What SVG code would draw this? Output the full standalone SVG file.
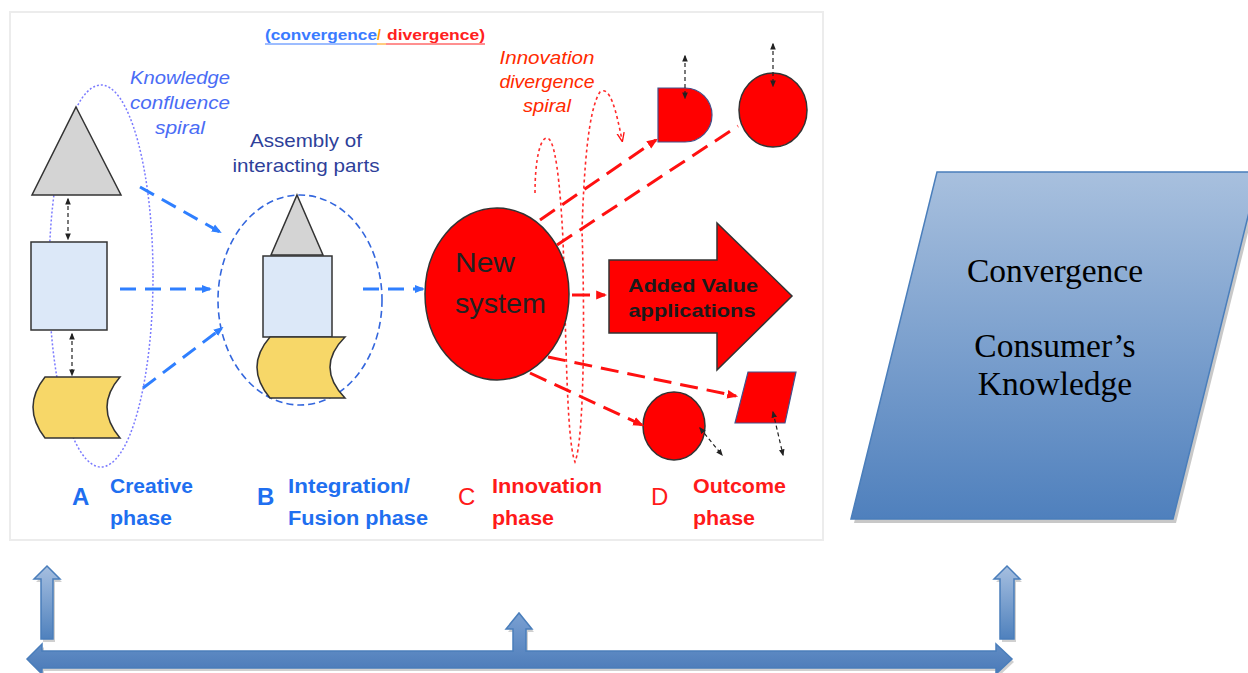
<svg xmlns="http://www.w3.org/2000/svg" width="1248" height="673" viewBox="0 0 1248 673">
<defs>
<style>
.sans{font-family:"Liberation Sans",Arial,sans-serif;}
.serif{font-family:"Liberation Serif","Times New Roman",serif;}
.dk{stroke:#333;stroke-width:1.5;}
.bdash{fill:none;stroke:#2f7fff;stroke-width:3;stroke-dasharray:16 9;}
.rdash{fill:none;stroke:#ff1010;stroke-width:3;stroke-dasharray:18 9;}
.kdash{fill:none;stroke:#222;stroke-width:1.2;stroke-dasharray:4 3;}
.blue{fill:#1f6ff0;}
.red{fill:#ff1a1a;}
.barrow{fill:url(#gv);stroke:#4a7ebb;stroke-width:1.5;}
</style>
<linearGradient id="gp" x1="0" y1="0" x2="0" y2="1">
<stop offset="0" stop-color="#a8c0de"/>
<stop offset="1" stop-color="#4f80bd"/>
</linearGradient>
<linearGradient id="gv" x1="0" y1="0" x2="0" y2="1">
<stop offset="0" stop-color="#a6bfe0"/>
<stop offset="1" stop-color="#4f81bd"/>
</linearGradient>
<linearGradient id="gh" x1="0" y1="0" x2="0" y2="1">
<stop offset="0" stop-color="#7aa0d2"/>
<stop offset="1" stop-color="#4a7ab8"/>
</linearGradient>
<marker id="ab" viewBox="0 0 10 10" markerWidth="10" markerHeight="10" refX="8" refY="5" orient="auto" markerUnits="userSpaceOnUse"><path d="M0,1 L10,5 L0,9 Z" fill="#2f7fff"/></marker>
<marker id="ar" viewBox="0 0 10 10" markerWidth="11" markerHeight="11" refX="8" refY="5" orient="auto" markerUnits="userSpaceOnUse"><path d="M0,1 L10,5 L0,9 Z" fill="#ff1010"/></marker>
<marker id="ark" viewBox="0 0 10 10" markerWidth="9" markerHeight="9" refX="8" refY="5" orient="auto" markerUnits="userSpaceOnUse"><path d="M0,1 L10,5 L0,9" fill="none" stroke="#ff1010" stroke-width="1.5"/></marker>
<marker id="ak" viewBox="0 0 10 10" markerWidth="7" markerHeight="7" refX="8" refY="5" orient="auto-start-reverse" markerUnits="userSpaceOnUse"><path d="M0,1 L10,5 L0,9 Z" fill="#222"/></marker>
</defs>

<rect width="1248" height="673" fill="#ffffff"/>

<!-- embedded picture frame -->
<g id="frame">
<rect x="10" y="12" width="813" height="528" fill="#ffffff" stroke="#ececec" stroke-width="2"/>
</g>

<!-- title -->
<g id="title" class="sans" font-size="14" font-weight="bold">
<text x="265" y="40" fill="#3a7bff" textLength="112" lengthAdjust="spacingAndGlyphs">(convergence</text>
<text x="377" y="40" fill="#ff9900">/</text>
<text x="387" y="40" fill="#ff2020" textLength="98" lengthAdjust="spacingAndGlyphs">divergence)</text>
<line x1="265" y1="44" x2="377" y2="44" stroke="#3a7bff" stroke-width="1"/>
<line x1="377" y1="44" x2="386" y2="44" stroke="#ff9900" stroke-width="1"/>
<line x1="386" y1="44" x2="485" y2="44" stroke="#ff2020" stroke-width="1"/>
</g>

<!-- spirals -->
<g id="spirals">
<ellipse cx="101" cy="276" rx="52" ry="191" fill="none" stroke="#7b7bff" stroke-width="1.5" stroke-dasharray="2 2"/>
<path d="M535,193 C535,160 540,138 547,138 C555,138 560,180 563,240 C566,320 566,440 575,462 C584,440 585,320 582,230 C584,170 588,110 600,92 C610,85 616,110 622,140" fill="none" stroke="#ff2a2a" stroke-width="1.6" stroke-dasharray="3 3" marker-end="url(#ark)"/>
</g>

<!-- spiral labels -->
<g id="spiral-labels" class="sans" font-style="italic" font-size="18">
<text x="180" y="84" fill="#4a6cf5" text-anchor="middle" textLength="100" lengthAdjust="spacingAndGlyphs">Knowledge</text>
<text x="180" y="109" fill="#4a6cf5" text-anchor="middle" textLength="100" lengthAdjust="spacingAndGlyphs">confluence</text>
<text x="180" y="134" fill="#4a6cf5" text-anchor="middle" textLength="50" lengthAdjust="spacingAndGlyphs">spiral</text>
<text x="547" y="64" fill="#ff2a00" text-anchor="middle" textLength="95" lengthAdjust="spacingAndGlyphs">Innovation</text>
<text x="547" y="88" fill="#ff2a00" text-anchor="middle" textLength="95" lengthAdjust="spacingAndGlyphs">divergence</text>
<text x="547" y="112" fill="#ff2a00" text-anchor="middle" textLength="48" lengthAdjust="spacingAndGlyphs">spiral</text>
</g>

<!-- Column A -->
<g id="a-triangle"><polygon points="76,107 121,195 32,195" fill="#d4d4d4" class="dk"/></g>
<g id="a-rect"><rect x="31" y="242" width="76" height="88" fill="#dce8f8" class="dk"/></g>
<g id="a-drum"><path d="M45,377 H120 Q94,407 120,438 H45 Q21,407 45,377 Z" fill="#f7d768" class="dk"/></g>

<!-- Column B -->
<g id="b-assembly">
<ellipse cx="300" cy="300" rx="82" ry="105" fill="none" stroke="#3366dd" stroke-width="1.6" stroke-dasharray="7 4"/>
<polygon points="297,195 323,255 271,255" fill="#d4d4d4" class="dk"/>
<rect x="263" y="256" width="69" height="81" fill="#dce8f8" class="dk"/>
<path d="M270,337 H345 Q315,367 345,398 H270 Q244,367 270,337 Z" fill="#f7d768" class="dk"/>
</g>
<g id="b-label" class="sans" font-size="19" fill="#2e3f9a">
<text x="306" y="147" text-anchor="middle" textLength="112" lengthAdjust="spacingAndGlyphs">Assembly  of</text>
<text x="306" y="172" text-anchor="middle" textLength="147" lengthAdjust="spacingAndGlyphs">interacting parts</text>
</g>

<!-- Column C -->
<g id="new-system">
<ellipse cx="497" cy="294" rx="72" ry="86" fill="#ff0000" class="dk"/>
<text x="455" y="272" class="sans" font-size="28" fill="#222" textLength="60" lengthAdjust="spacingAndGlyphs">New</text>
<text x="455" y="313" class="sans" font-size="28" fill="#222" textLength="91" lengthAdjust="spacingAndGlyphs">system</text>
</g>
<g id="added-value">
<polygon points="609,260 717,260 717,223 792,296 717,370 717,333 609,333" fill="#ff0000" class="dk"/>
<text x="693" y="292" class="sans" font-size="19" font-weight="bold" fill="#1a1a1a" text-anchor="middle" textLength="130" lengthAdjust="spacingAndGlyphs">Added Value</text>
<text x="692" y="317" class="sans" font-size="19" font-weight="bold" fill="#1a1a1a" text-anchor="middle" textLength="127" lengthAdjust="spacingAndGlyphs">applications</text>
</g>

<!-- Column D outcomes -->
<g id="d-halfround"><path d="M658,88 H685 A27,27 0 0 1 685,142 H658 Z" fill="#ff0000" stroke="#44508a" stroke-width="1.2"/></g>
<g id="d-circle-top"><ellipse cx="773" cy="110" rx="34" ry="37" fill="#ff0000" class="dk"/></g>
<g id="d-circle-bottom"><ellipse cx="674" cy="426" rx="31" ry="34" fill="#ff0000" class="dk"/></g>
<g id="d-parallelogram"><polygon points="748,372 796,372 785,423 735,423" fill="#ff0000" stroke="#44508a" stroke-width="1.2"/></g>

<!-- connectors -->
<g id="connectors">
<line x1="68" y1="199" x2="68" y2="239" class="kdash" marker-start="url(#ak)" marker-end="url(#ak)"/>
<line x1="72" y1="334" x2="72" y2="375" class="kdash" marker-start="url(#ak)" marker-end="url(#ak)"/>
<line x1="140" y1="187" x2="220" y2="232" class="bdash" marker-end="url(#ab)"/>
<line x1="120" y1="289" x2="210" y2="289" class="bdash" marker-end="url(#ab)"/>
<line x1="143" y1="388" x2="222" y2="328" class="bdash" marker-end="url(#ab)"/>
<line x1="363" y1="289" x2="423" y2="289" class="bdash" marker-end="url(#ab)"/>
<line x1="572" y1="295" x2="605" y2="295" class="rdash" stroke-dasharray="10 5" marker-end="url(#ar)"/>
<line x1="540" y1="220" x2="656" y2="140" class="rdash" marker-end="url(#ar)"/>
<line x1="557" y1="245" x2="738" y2="126" class="rdash"/>
<line x1="548" y1="357" x2="736" y2="396" class="rdash" marker-end="url(#ar)"/>
<line x1="530" y1="373" x2="642" y2="425" class="rdash" marker-end="url(#ar)"/>
<line x1="685" y1="56" x2="685" y2="98" class="kdash" marker-start="url(#ak)" marker-end="url(#ak)"/>
<line x1="773" y1="44" x2="773" y2="86" class="kdash" marker-start="url(#ak)" marker-end="url(#ak)"/>
<line x1="700" y1="428" x2="722" y2="455" class="kdash" marker-start="url(#ak)" marker-end="url(#ak)"/>
<line x1="773" y1="412" x2="783" y2="455" class="kdash" marker-start="url(#ak)" marker-end="url(#ak)"/>
</g>

<!-- phase labels -->
<g id="phase-a" class="sans" font-weight="bold">
<text x="72" y="505" font-size="24" class="blue">A</text>
<text x="110" y="493" font-size="20" class="blue" textLength="83" lengthAdjust="spacingAndGlyphs">Creative</text>
<text x="110" y="525" font-size="20" class="blue" textLength="62" lengthAdjust="spacingAndGlyphs">phase</text>
</g>
<g id="phase-b" class="sans" font-weight="bold">
<text x="257" y="505" font-size="24" class="blue">B</text>
<text x="288" y="493" font-size="20" class="blue" textLength="122" lengthAdjust="spacingAndGlyphs">Integration/</text>
<text x="288" y="525" font-size="20" class="blue" textLength="140" lengthAdjust="spacingAndGlyphs">Fusion phase</text>
</g>
<g id="phase-c" class="sans" font-weight="bold">
<text x="458" y="505" font-size="24" font-weight="normal" class="red">C</text>
<text x="492" y="493" font-size="20" class="red" textLength="110" lengthAdjust="spacingAndGlyphs">Innovation</text>
<text x="492" y="525" font-size="20" class="red" textLength="62" lengthAdjust="spacingAndGlyphs">phase</text>
</g>
<g id="phase-d" class="sans" font-weight="bold">
<text x="651" y="505" font-size="24" font-weight="normal" class="red">D</text>
<text x="693" y="493" font-size="20" class="red" textLength="93" lengthAdjust="spacingAndGlyphs">Outcome</text>
<text x="693" y="525" font-size="20" class="red" textLength="62" lengthAdjust="spacingAndGlyphs">phase</text>
</g>

<!-- parallelogram -->
<g id="convergence-box">
<polygon points="940,176 1262,176 1176,523 854,523" fill="#c8c8c8"/>
<polygon points="937,172 1259,172 1173,519 851,519" fill="url(#gp)" stroke="#4a7ebb" stroke-width="1.5"/>
<text x="1055" y="282" class="serif" font-size="33.5" fill="#000" text-anchor="middle">Convergence</text>
<text x="1055" y="357" class="serif" font-size="33.5" fill="#000" text-anchor="middle">Consumer’s</text>
<text x="1055" y="395" class="serif" font-size="33.5" fill="#000" text-anchor="middle">Knowledge</text>
</g>

<!-- bottom arrows -->
<g id="bottom-arrows">
<polygon points="49,569 62,582 55,582 55,642 43,642 43,582 36,582" fill="#d0d0d0"/>
<polygon points="47,566 60,579 53,579 53,639 41,639 41,579 34,579" class="barrow"/>
<polygon points="1009,569 1022,582 1016,582 1016,642 1002,642 1002,582 996,582" fill="#d0d0d0"/>
<polygon points="1007,566 1020,579 1014,579 1014,639 1000,639 1000,579 994,579" class="barrow"/>
<polygon points="29,662 44,647 44,654 515,654 515,632 508,632 521,616 534,632 528,632 528,654 998,654 998,647 1014,662 998,677 998,671 44,671 44,677" fill="#d0d0d0"/>
<polygon points="27,659 42,644 42,651 513,651 513,629 506,629 519,613 532,629 526,629 526,651 996,651 996,644 1012,659 996,674 996,668 42,668 42,674" fill="url(#gh)" stroke="#4a7ebb" stroke-width="1.5"/>
</g>
</svg>
